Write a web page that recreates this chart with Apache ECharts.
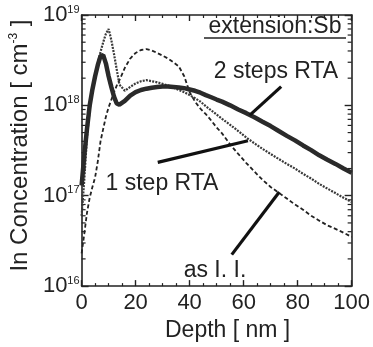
<!DOCTYPE html>
<html>
<head>
<meta charset="utf-8">
<script src="https://cdn.jsdelivr.net/npm/echarts@6/dist/echarts.min.js"></script>
<style>
  html, body { margin: 0; padding: 0; background: #fff; }
  #main { width: 373px; height: 347px; }
</style>
</head>
<body>
<div id="main"></div>
<script>
// depth in nm, concentration in cm^-3
const depth = [0, 1, 2, 3, 4, 5, 6, 7, 8, 9, 10, 11, 12, 13, 14, 16, 18, 20, 22, 24, 26, 28, 30, 32, 34, 36, 38, 40, 42, 44, 46, 48, 50, 52, 55, 58, 61, 64, 67, 70, 73, 76, 79, 82, 85, 88, 91, 94, 97, 100]
const twoSteps = [1.3e17, 2.8e17, 5.5e17, 1.0e18, 1.5e18, 2.1e18, 2.8e18, 3.5e18, 3.6e18, 2.9e18, 2.1e18, 1.6e18, 1.25e18, 1.05e18, 1.02e18, 1.12e18, 1.28e18, 1.4e18, 1.48e18, 1.53e18, 1.57e18, 1.6e18, 1.62e18, 1.62e18, 1.6e18, 1.58e18, 1.55e18, 1.5e18, 1.45e18, 1.38e18, 1.3e18, 1.23e18, 1.16e18, 1.1e18, 1.0e18, 9.0e17, 8.2e17, 7.4e17, 6.6e17, 5.9e17, 5.2e17, 4.6e17, 4.1e17, 3.6e17, 3.2e17, 2.8e17, 2.5e17, 2.25e17, 2.0e17, 1.8e17]
const oneStep = [6e16, 1.5e17, 4.5e17, 9e17, 1.5e18, 2.1e18, 2.9e18, 3.9e18, 5.0e18, 6.2e18, 7.0e18, 5.3e18, 3.7e18, 2.5e18, 1.7e18, 1.45e18, 1.6e18, 1.75e18, 1.85e18, 1.9e18, 1.85e18, 1.8e18, 1.73e18, 1.66e18, 1.58e18, 1.48e18, 1.4e18, 1.3e18, 1.2e18, 1.1e18, 9.8e17, 8.8e17, 7.9e17, 7.1e17, 6.1e17, 5.2e17, 4.4e17, 3.8e17, 3.3e17, 2.9e17, 2.55e17, 2.25e17, 2.0e17, 1.75e17, 1.55e17, 1.35e17, 1.2e17, 1.07e17, 9.5e16, 8.5e16]
const asImplanted = [2.3e16, 3.8e16, 6.5e16, 9.5e16, 1.25e17, 1.6e17, 2.4e17, 4.0e17, 5.5e17, 7.5e17, 9.5e17, 1.15e18, 1.4e18, 1.65e18, 1.9e18, 2.6e18, 3.3e18, 3.8e18, 4.1e18, 4.2e18, 4.05e18, 3.8e18, 3.55e18, 3.3e18, 3.0e18, 2.7e18, 2.1e18, 1.4e18, 1.1e18, 9.2e17, 8.0e17, 6.8e17, 5.7e17, 4.9e17, 3.7e17, 2.9e17, 2.3e17, 1.85e17, 1.5e17, 1.25e17, 1.08e17, 9.3e16, 8.0e16, 7.0e16, 6.0e16, 5.3e16, 4.7e16, 4.3e16, 3.9e16, 3.5e16]

// label pointer lines, [depth, conc] start -> end
const pointerTwo = [[73.9, 1.61e18], [62.3, 7.8e17]]
const pointerOne = [[28.2, 2.34e17], [61.6, 4.06e17]]
const pointerAs = [[55.6, 2.23e16], [73.2, 1.1e17]]

const FONT = "'Liberation Sans', Arial, sans-serif"
const INK = '#222'

// log minor ticks 2..9 for each decade
const minorY = []
for (let e = 16; e < 19; e++) {
  for (let m = 2; m <= 9; m++) minorY.push(m * Math.pow(10, e))
}

const pairs = (vals) => depth.map((d, i) => [d, vals[i]])
const pointer = (p) => [[{ coord: p[0] }, { coord: p[1] }]]

const axisX = (pos, showLabel) => ({
  type: 'value',
  position: pos,
  min: 0,
  max: 100,
  interval: 20,
  axisLine: { show: true, onZero: false, lineStyle: { color: INK, width: 1.6 } },
  axisTick: { show: true, inside: true, length: 6, lineStyle: { color: INK, width: 1.4 } },
  minorTick: { show: true, splitNumber: 4, length: 3, lineStyle: { color: INK, width: 1.2 } },
  splitLine: { show: false },
  axisLabel: { show: showLabel, color: INK, fontSize: 22, fontFamily: FONT, margin: 6 },
})

const axisY = (pos, showLabel) => ({
  type: 'log',
  logBase: 10,
  position: pos,
  min: 1e16,
  max: 1e19,
  axisLine: { show: true, onZero: false, lineStyle: { color: INK, width: 1.6 } },
  axisTick: { show: true, inside: true, length: 7, lineStyle: { color: INK, width: 1.4 } },
  splitLine: { show: false },
  axisLabel: {
    show: showLabel,
    margin: 2,
    formatter: (v) => '{b|10}{s|' + Math.round(Math.log10(v)) + '}',
    rich: {
      b: { fontSize: 22, fontFamily: FONT, color: INK },
      s: { fontSize: 11, fontFamily: FONT, color: INK, verticalAlign: 'top' },
    },
  },
})

const chart = echarts.init(document.getElementById('main'), null, { renderer: 'canvas' })
chart.setOption({
  backgroundColor: '#fff',
  animation: false,
  grid: { left: 75, right: 14, top: 15, bottom: 56, containLabel: false },
  xAxis: [
    Object.assign(axisX('bottom', true), {
      name: 'Depth [ nm ]',
      nameLocation: 'middle',
      nameGap: 31,
      nameTextStyle: { color: INK, fontSize: 23, fontFamily: FONT, padding: [0, 0, 0, 22] },
    }),
    axisX('top', false),
  ],
  yAxis: [
    Object.assign(axisY('left', true), {
      name: '{a|In Concentration [ cm}{s|-3}{a| ]}',
      nameLocation: 'middle',
      nameGap: 44,
      nameRotate: 90,
      nameTextStyle: {
        rich: {
          a: { fontSize: 24, fontFamily: FONT, color: INK },
          s: { fontSize: 12, fontFamily: FONT, color: INK, verticalAlign: 'top' },
        },
        padding: [0, 0, 0, 10],
      },
    }),
    axisY('right', false),
  ],
  graphic: [
    { type: 'text', x: 275, y: 27, style: { text: 'extension:Sb', fill: INK, font: '23px ' + FONT, align: 'center', verticalAlign: 'middle' } },
    { type: 'line', shape: { x1: 204, y1: 38, x2: 346, y2: 38 }, style: { stroke: INK, lineWidth: 1.5 } },
    { type: 'text', x: 276, y: 72, style: { text: '2 steps RTA', fill: INK, font: '23px ' + FONT, align: 'center', verticalAlign: 'middle' } },
    { type: 'text', x: 162, y: 184, style: { text: '1 step RTA', fill: INK, font: '23px ' + FONT, align: 'center', verticalAlign: 'middle' } },
    { type: 'text', x: 215, y: 271, style: { text: 'as I. I.', fill: INK, font: '23px ' + FONT, align: 'center', verticalAlign: 'middle' } },
  ],
  series: [
    {
      name: 'as I. I.',
      type: 'line',
      data: pairs(asImplanted),
      showSymbol: false,
      lineStyle: { color: '#222', width: 1.8, type: [4, 2.5] },
      markLine: {
        silent: true, symbol: 'none', label: { show: false },
        lineStyle: { color: '#111', width: 3.2, type: 'solid' },
        data: pointer(pointerAs),
      },
    },
    {
      name: '1 step RTA',
      type: 'line',
      data: pairs(oneStep),
      showSymbol: false,
      lineStyle: { color: '#3a3a3a', width: 2.2, type: [2, 1.2] },
      markLine: {
        silent: true, symbol: 'none', label: { show: false },
        lineStyle: { color: '#111', width: 3.2, type: 'solid' },
        data: pointer(pointerOne),
      },
    },
    {
      name: '2 steps RTA',
      type: 'line',
      data: pairs(twoSteps),
      showSymbol: false,
      lineStyle: { color: '#2a2a2a', width: 4.5 },
      markLine: {
        silent: true, symbol: 'none', label: { show: false },
        lineStyle: { color: '#111', width: 3.2, type: 'solid' },
        data: pointer(pointerTwo),
      },
    },
    {
      // minor ticks of the log axes, both sides
      type: 'custom',
      silent: true,
      clip: false,
      data: minorY.map((v) => [0, v]),
      renderItem: (params, api) => {
        const pt = api.coord([0, api.value(1)])
        const cs = params.coordSys
        const st = { stroke: INK, lineWidth: 1.2 }
        return {
          type: 'group',
          children: [
            { type: 'line', shape: { x1: cs.x, y1: pt[1], x2: cs.x + 4, y2: pt[1] }, style: st },
            { type: 'line', shape: { x1: cs.x + cs.width - 4, y1: pt[1], x2: cs.x + cs.width, y2: pt[1] }, style: st },
          ],
        }
      },
    },
  ],
})
</script>
</body>
</html>
